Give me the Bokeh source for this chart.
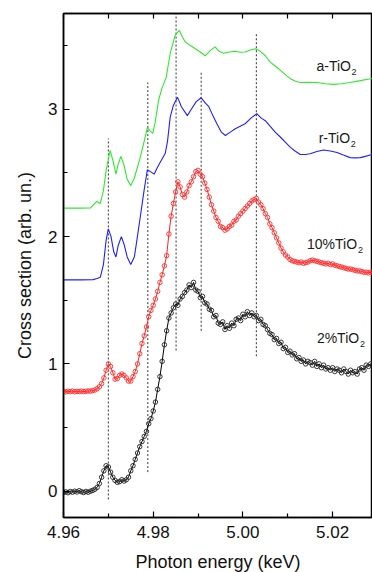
from bokeh.plotting import figure
from bokeh.models import FixedTicker, LinearAxis, Range1d, ColumnDataSource, NumeralTickFormatter
from bokeh.embed import file_html
from bokeh.resources import INLINE
from bokeh.core.properties import value

# ---------------- data ----------------
green_E = [4.9600, 4.9637, 4.9660, 4.9674, 4.9682, 4.9689, 4.9695, 4.9704, 4.9710, 4.9717,
           4.9722, 4.9728, 4.9735, 4.9742, 4.9750, 4.9758, 4.9771, 4.9780, 4.9787, 4.9793,
           4.9799, 4.9804, 4.9812, 4.9819, 4.9829, 4.9838, 4.9849, 4.9858, 4.9865, 4.9871,
           4.9883, 4.9894, 4.9905, 4.9916, 4.9927, 4.9938, 4.9947, 4.9957, 4.9970, 4.9983,
           4.9994, 5.0005, 5.0017, 5.0028, 5.0039, 5.0050, 5.0061, 5.0072, 5.0084, 5.0095,
           5.0106, 5.0117, 5.0128, 5.0146, 5.0165, 5.0184, 5.0202, 5.0220, 5.0239, 5.0262,
           5.0284, 5.0290]
green = [2.223, 2.223, 2.224, 2.276, 2.26, 2.36, 2.52, 2.676, 2.60, 2.49,
         2.57, 2.63, 2.56, 2.45, 2.40, 2.46, 2.62, 2.75, 2.855, 2.83,
         2.81, 2.89, 3.07, 3.16, 3.25, 3.44, 3.58, 3.62, 3.57, 3.53,
         3.50, 3.475, 3.45, 3.42, 3.46, 3.49, 3.455, 3.44, 3.45, 3.455,
         3.448, 3.45, 3.465, 3.475, 3.455, 3.42, 3.37, 3.34, 3.305, 3.27,
         3.24, 3.22, 3.21, 3.212, 3.21, 3.20, 3.195, 3.20, 3.21, 3.225,
         3.24, 3.245]

blue_E = [4.9600, 4.9637, 4.9666, 4.9675, 4.9682, 4.9689, 4.9695, 4.9700, 4.9706, 4.9712,
          4.9717, 4.9722, 4.9729, 4.9735, 4.9742, 4.9750, 4.9758, 4.9764, 4.9771, 4.9780,
          4.9787, 4.9794, 4.9802, 4.9809, 4.9816, 4.9827, 4.9832, 4.9838, 4.9845, 4.9854,
          4.9863, 4.9876, 4.9885, 4.9896, 4.9907, 4.9916, 4.9924, 4.9933, 4.9942, 4.9952,
          4.9961, 4.9972, 4.9983, 4.9994, 5.0005, 5.0018, 5.0031, 5.0041, 5.0050, 5.0061,
          5.0072, 5.0084, 5.0095, 5.0106, 5.0117, 5.0128, 5.0139, 5.0150, 5.0165, 5.0180,
          5.0195, 5.0210, 5.0224, 5.0239, 5.0250, 5.0262, 5.0273, 5.0284, 5.0290]
blue = [1.66, 1.66, 1.662, 1.67, 1.68, 1.78, 1.97, 2.06, 2.00, 1.88,
        1.84, 1.93, 2.00, 1.94, 1.84, 1.78, 1.84, 1.98, 2.15, 2.37,
        2.525, 2.51, 2.49, 2.54, 2.585, 2.655, 2.75, 2.94, 3.03, 3.095,
        3.02, 2.95, 3.00, 3.06, 3.09, 3.05, 3.02, 2.95, 2.886, 2.82,
        2.794, 2.82, 2.847, 2.866, 2.886, 2.93, 2.965, 2.93, 2.91, 2.865,
        2.82, 2.78, 2.74, 2.70, 2.67, 2.645, 2.645, 2.65, 2.668, 2.68,
        2.672, 2.66, 2.64, 2.62, 2.618, 2.62, 2.63, 2.64, 2.645]

# measured samples, 0.5 eV apart, starting at 4.960 keV
scan_start = 4.960
scan_step = 0.0005
red = [0.783, 0.780, 0.785, 0.782, 0.786, 0.781, 0.784, 0.783, 0.786, 0.782,
       0.785, 0.787, 0.786, 0.790, 0.795, 0.805, 0.820, 0.845, 0.890, 0.950,
       1.000, 0.980, 0.930, 0.880, 0.885, 0.910, 0.920, 0.910, 0.890, 0.865,
       0.865, 0.900, 0.940, 1.000, 1.080, 1.160, 1.220, 1.290, 1.370, 1.420,
       1.460, 1.510, 1.570, 1.640, 1.700, 1.770, 1.850, 2.020, 2.160, 2.260,
       2.350, 2.430, 2.390, 2.330, 2.310, 2.350, 2.400, 2.430, 2.470, 2.510,
       2.520, 2.490, 2.470, 2.420, 2.370, 2.310, 2.250, 2.200, 2.150, 2.120,
       2.080, 2.070, 2.050, 2.060, 2.080, 2.090, 2.120, 2.130, 2.160, 2.180,
       2.200, 2.220, 2.240, 2.260, 2.280, 2.290, 2.300, 2.270, 2.250, 2.220,
       2.180, 2.150, 2.100, 2.070, 2.030, 1.990, 1.950, 1.910, 1.880, 1.855,
       1.840, 1.820, 1.810, 1.805, 1.800, 1.795, 1.800, 1.790, 1.795, 1.800,
       1.810, 1.815, 1.810, 1.805, 1.800, 1.795, 1.790, 1.785, 1.790, 1.780,
       1.785, 1.775, 1.770, 1.765, 1.760, 1.755, 1.750, 1.745, 1.745, 1.740,
       1.735, 1.730, 1.730, 1.725, 1.720, 1.720, 1.715, 1.720, 1.720]
black = [-0.010, -0.005, -0.012, -0.002, -0.008, 0.000, -0.006, 0.004, -0.004, -0.010,
         -0.002, -0.008, 0.000, 0.006, 0.015, 0.030, 0.060, 0.110, 0.160, 0.200,
         0.190, 0.150, 0.110, 0.085, 0.070, 0.075, 0.090, 0.080, 0.090, 0.110,
         0.160, 0.200, 0.250, 0.300, 0.350, 0.390, 0.430, 0.470, 0.530, 0.570,
         0.630, 0.700, 0.800, 0.900, 1.020, 1.150, 1.260, 1.360, 1.400, 1.440,
         1.470, 1.460, 1.510, 1.530, 1.560, 1.580, 1.620, 1.600, 1.640, 1.580,
         1.570, 1.520, 1.530, 1.480, 1.470, 1.430, 1.420, 1.370, 1.380, 1.320,
         1.310, 1.330, 1.270, 1.300, 1.280, 1.320, 1.300, 1.350, 1.360, 1.340,
         1.390, 1.370, 1.410, 1.380, 1.400, 1.370, 1.380, 1.340, 1.350, 1.310,
         1.300, 1.270, 1.240, 1.230, 1.190, 1.200, 1.160, 1.170, 1.120, 1.130,
         1.090, 1.100, 1.070, 1.080, 1.040, 1.050, 1.020, 1.030, 1.000, 1.020,
         1.010, 0.990, 1.020, 0.980, 1.000, 0.970, 0.990, 0.960, 0.970, 0.950,
         0.970, 0.940, 0.960, 0.950, 0.930, 0.960, 0.940, 0.920, 0.950, 0.930,
         0.940, 0.920, 0.960, 0.970, 0.950, 0.990, 0.980, 1.000, 0.990]

# dotted guide lines (energy, top, bottom)
vline_E = [4.9700, 4.9788, 4.9851, 4.9907, 5.0030]
vline_top = [2.77, 3.21, 3.752, 3.29, 3.60]
vline_bottom = [-0.065, 0.15, 1.105, 1.26, 1.06]

label_main = ["a-TiO", "r-TiO", "10%TiO", "2%TiO"]
label_sub = ["2", "2", "2", "2"]
label_E = [5.0164, 5.0169, 5.0143, 5.0165]
label_val = [3.342, 2.775, 1.94, 1.207]

x_major = [4.96, 4.98, 5.00, 5.02]
x_minor = [4.97, 4.99, 5.01]
x_all = [4.96, 4.97, 4.98, 4.99, 5.00, 5.01, 5.02]
y_major = [0, 1, 2, 3]
y_minor = [0.5, 1.5, 2.5, 3.5]

# ---------------- figure ----------------
FONT = "Liberation Sans"
p = figure(frame_width=309, frame_height=504,
           x_range=Range1d(4.96, 5.0289), y_range=Range1d(-0.2066, 3.752),
           output_backend="svg", toolbar_location=None,
           min_border_left=63, min_border_right=0, min_border_top=13, min_border_bottom=55)
p.grid.visible = False
p.outline_line_color = "black"
p.outline_line_width = 1.5
p.background_fill_color = "white"
p.border_fill_color = "white"

xt = FixedTicker(ticks=x_major, minor_ticks=x_minor)
yt = FixedTicker(ticks=y_major, minor_ticks=y_minor)

xa = p.xaxis[0]
xa.ticker = xt
xa.formatter = NumeralTickFormatter(format="0.00")
ya = p.yaxis[0]
ya.ticker = yt
for ax in (xa, ya):
    ax.axis_line_width = 1.5
    ax.axis_line_color = "black"
    ax.major_tick_in = 6
    ax.major_tick_out = 0
    ax.minor_tick_in = 4
    ax.minor_tick_out = 0
    ax.major_tick_line_color = "black"
    ax.minor_tick_line_color = "black"
    ax.major_tick_line_width = 1.2
    ax.minor_tick_line_width = 1.2
    ax.major_label_text_font = FONT
    ax.major_label_text_font_size = "17px"
    ax.major_label_text_color = "#111111"
    ax.axis_label_text_font = FONT
    ax.axis_label_text_font_size = "18px"
    ax.axis_label_text_font_style = "normal"
    ax.axis_label_text_color = "#111111"
xa.axis_label = "Photon energy (keV)"
ya.axis_label = "Cross section (arb. un.)"
xa.major_label_standoff = 8
xa.axis_label_standoff = 11
ya.major_label_standoff = 6
ya.axis_label_standoff = 10

# mirrored ticks on the top edge (no labels)
top = LinearAxis(ticker=FixedTicker(ticks=[], minor_ticks=x_all), axis_line_width=1.5,
                 major_tick_in=0, major_tick_out=0, minor_tick_in=5, minor_tick_out=0,
                 minor_tick_line_width=1.2, major_label_standoff=0)
p.add_layout(top, "above")

# dotted guide lines
p.segment(x0=vline_E, y0=vline_bottom, x1=vline_E, y1=vline_top,
          line_color="#333333", line_width=1, line_dash="2 2")

# smooth references
p.line(green_E, green, line_color="#2ee82e", line_width=1.1)
p.line(blue_E, blue, line_color="#1f1fff", line_width=1.1)

scan_E = [round(scan_start + scan_step * i, 4) for i in range(len(red))]
p.line(scan_E, red, line_color="#ff2020", line_width=1)
p.scatter(scan_E, red, marker="circle", size=4.5, fill_color=None,
          line_color="#ff3030", line_width=0.9)
scan_Eb = [round(scan_start + scan_step * i, 4) for i in range(len(black))]
p.line(scan_Eb, black, line_color="black", line_width=1)
p.scatter(scan_Eb, black, marker="circle", size=4.5, fill_color=None,
          line_color="#222222", line_width=0.9)

# labels
sub_off = [35, 32, 51, 43]
src = ColumnDataSource(dict(x=label_E, y=label_val, t=label_main, s=label_sub, off=sub_off))
p.text(x="x", y="y", text="t", source=src, text_font=value(FONT), text_font_size="14px",
       text_align="left", text_baseline="middle", text_color="#1a1a1a")
p.text(x="x", y="y", text="s", source=src, x_offset="off", y_offset=6,
       text_font=value(FONT), text_font_size="9px",
       text_align="left", text_baseline="middle", text_color="#1a1a1a")

open("out.html", "w").write(file_html(p, INLINE))
